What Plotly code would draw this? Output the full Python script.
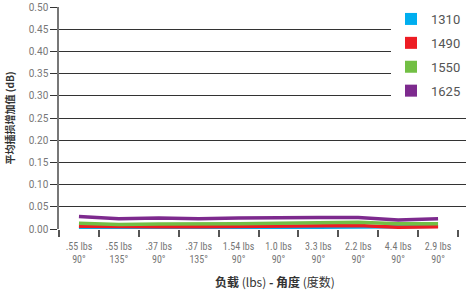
import plotly.graph_objects as go

categories = [".55 lbs<br>90°", ".55 lbs<br>135°", ".37 lbs<br>90°", ".37 lbs<br>135°",
              "1.54 lbs<br>90°", "1.0 lbs<br>90°", "3.3 lbs<br>90°", "2.2 lbs<br>90°",
              "4.4 lbs<br>90°", "2.9 lbs<br>90°"]
series_names = ["1310", "1490", "1550", "1625"]
v1310 = [0.002, 0.002, 0.003, 0.003, 0.003, 0.003, 0.004, 0.004, 0.005, 0.006]
v1490 = [0.006, 0.005, 0.005, 0.005, 0.006, 0.006, 0.007, 0.008, 0.004, 0.005]
v1550 = [0.013, 0.010, 0.011, 0.011, 0.012, 0.013, 0.014, 0.015, 0.012, 0.012]
v1625 = [0.028, 0.023, 0.025, 0.023, 0.025, 0.026, 0.026, 0.026, 0.020, 0.023]
colors = ["#00aeef", "#ed1c24", "#72bf44", "#7d2a8e"]
y_ticks = [0.0, 0.05, 0.10, 0.15, 0.20, 0.25, 0.30, 0.35, 0.40, 0.45, 0.50]

fig = go.Figure()
for name, vals, c in zip(series_names, [v1310, v1490, v1550, v1625], colors):
    fig.add_trace(go.Scatter(x=categories, y=vals, mode="lines", name=name,
                             line=dict(color=c, width=3.5), showlegend=False))
for name, c in zip(series_names, colors):
    fig.add_trace(go.Scatter(x=[None], y=[None], mode="markers", name=name, legendgroup=name,
                             marker=dict(symbol="square", size=13, color=c)))

W, H = 466, 292
L, T, B = 59, 7, 63
plot_h = H - T - B

tick_font = dict(family="Roboto, sans-serif", size=10, color="#777777")
fig.update_layout(
    width=W, height=H,
    margin=dict(l=L, r=0, t=T, b=B, autoexpand=False),
    paper_bgcolor="white", plot_bgcolor="white",
    showlegend=True,
    legend=dict(x=1.0, y=1.0 + 3 / plot_h, xanchor="right", yanchor="top",
                bgcolor="white", font=dict(family="Roboto, sans-serif", size=13, color="#555555"),
                tracegroupgap=4, itemsizing="constant", itemwidth=30),
    xaxis=dict(type="category", range=[-0.5, 9.7], tickson="boundaries",
               ticks="outside", ticklen=7, tickcolor="#555555", tickwidth=1.5,
               tickangle=0, automargin=False, ticklabelstandoff=10,
               showgrid=False, showline=False, zeroline=False,
               tickfont=dict(family="Roboto Condensed, Liberation Sans Narrow, Roboto, sans-serif", size=10, color="#777777")),
    yaxis=dict(range=[0, 0.5], tickvals=y_ticks, ticktext=[f"{v:.2f}" for v in y_ticks],
               ticks="outside", ticklen=7, tickcolor="#333333", automargin=False,
               showgrid=True, gridcolor="#333333", gridwidth=1,
               showline=True, linecolor="#777777", linewidth=1.5,
               zeroline=False, tickfont=tick_font,
               title=dict(text="<b>平均插损增加值 (dB)</b>", standoff=12,
                          font=dict(family="Noto Sans CJK SC", size=10, color="#333333"))),
    annotations=[dict(text="<b>负载</b> (lbs) <b>- 角度</b> (度数)", x=(275 - 59) / (466 - 59),
                      xref="paper", y=-(52 / plot_h), yref="paper", yanchor="middle", showarrow=False,
                      font=dict(family="Noto Sans CJK SC", size=12, color="#333333"))],
)
# remove the page's default 8px body margin so the figure fills the window exactly
fig.write_html("out.html", config={"displayModeBar": False},
               post_script="document.body.style.margin='0px';")
